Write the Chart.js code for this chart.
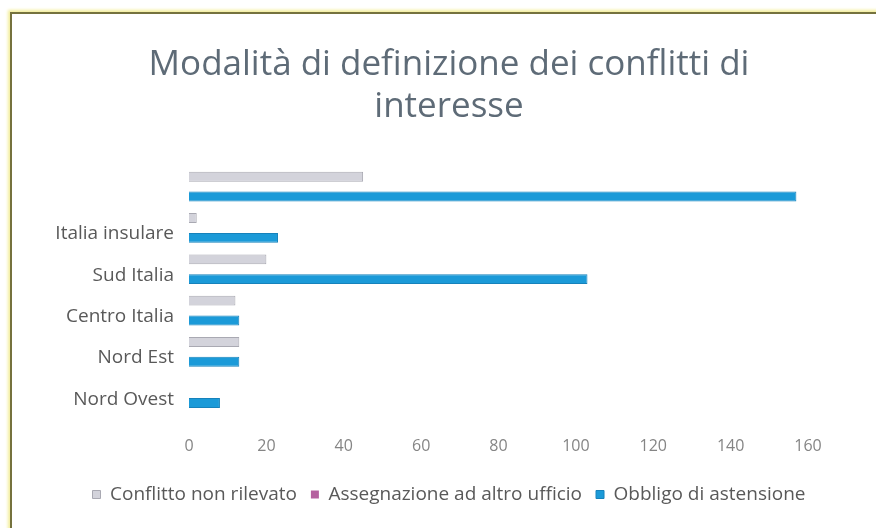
<!DOCTYPE html>
<html>
<head>
<meta charset="utf-8">
<script src="https://cdn.jsdelivr.net/npm/chart.js@4/dist/chart.umd.min.js"></script>
<style>
    html, body { margin: 0; padding: 0; background: #ffffff; }
    #wrap { position: relative; width: 876px; height: 528px; overflow: hidden; }
    #frame {
        position: absolute; left: 10px; top: 12px; width: 900px; height: 600px;
        border: 2px solid #75723e; box-shadow: -2px -2px 3px #f3ee9a;
    }
    #chart { position: absolute; left: 0; top: 0; }
</style>
</head>
<body>
<div id="wrap">
    <div id="frame"></div>
    <canvas id="chart" width="876" height="528"></canvas>
</div>
<script>
// categorie (dall'alto verso il basso)
const categories = ['', 'Italia insulare', 'Sud Italia', 'Centro Italia', 'Nord Est', 'Nord Ovest'];

// serie
const conflittoNonRilevato = [45, 2, 20, 12, 13, 0];
const assegnazioneAltroUfficio = [0, 0, 0, 0, 0, 0];
const obbligoAstensione = [157, 23, 103, 13, 13, 8];

const xTicks = [0, 20, 40, 60, 80, 100, 120, 140, 160];

const fontFamily = '"Open Sans", Lato, sans-serif';

const ctx = document.getElementById('chart').getContext('2d');
new Chart(ctx, {
    type: 'bar',
    data: {
        labels: categories,
        datasets: [
            {
                label: 'Conflitto non rilevato',
                data: conflittoNonRilevato,
                backgroundColor: '#d3d3db',
                borderColor: '#a9a9b2',
                borderWidth: 1
            },
            {
                label: 'Assegnazione ad altro ufficio',
                data: assegnazioneAltroUfficio,
                backgroundColor: '#b5619f',
                borderColor: '#b5619f',
                borderWidth: 0
            },
            {
                label: 'Obbligo di astensione',
                data: obbligoAstensione,
                backgroundColor: '#1b9ad8',
                borderColor: '#1682bb',
                borderWidth: 1
            }
        ]
    },
    options: {
        indexAxis: 'y',
        responsive: false,
        animation: false,
        categoryPercentage: 0.72,
        barPercentage: 1.0,
        layout: {
            padding: { left: 22, right: 0, top: 18, bottom: 14 }
        },
        scales: {
            x: {
                min: 0,
                max: 160,
                afterBuildTicks: (scale) => {
                    scale.ticks = xTicks.map(v => ({ value: v }));
                },
                grid: { display: false },
                border: { display: false },
                ticks: {
                    padding: 15,
                    color: '#858585',
                    font: { family: fontFamily, size: 16 }
                }
            },
            y: {
                grid: { display: false },
                border: { display: false },
                afterFit: (scale) => { scale.width = 167; },
                ticks: {
                    padding: 7,
                    labelOffset: 6,
                    color: '#595959',
                    font: { family: fontFamily, size: 19 }
                }
            },
            // asse vuoto a destra: lascia lo spazio a destra dell'area del grafico
            yRight: {
                type: 'category',
                position: 'right',
                grid: { display: false },
                border: { display: false },
                ticks: { display: false },
                afterFit: (scale) => { scale.width = 68; }
            }
        },
        plugins: {
            title: {
                display: true,
                text: ['Modalità di definizione dei conflitti di', 'interesse'],
                color: '#5e6b77',
                font: { family: fontFamily, size: 35, weight: 'normal', lineHeight: 1.2 },
                padding: { top: 26, bottom: 38 }
            },
            legend: {
                position: 'bottom',
                labels: {
                    boxWidth: 8,
                    boxHeight: 8,
                    padding: 14,
                    color: '#595959',
                    font: { family: fontFamily, size: 19 }
                }
            },
            tooltip: { enabled: false }
        }
    }
});
</script>
</body>
</html>
